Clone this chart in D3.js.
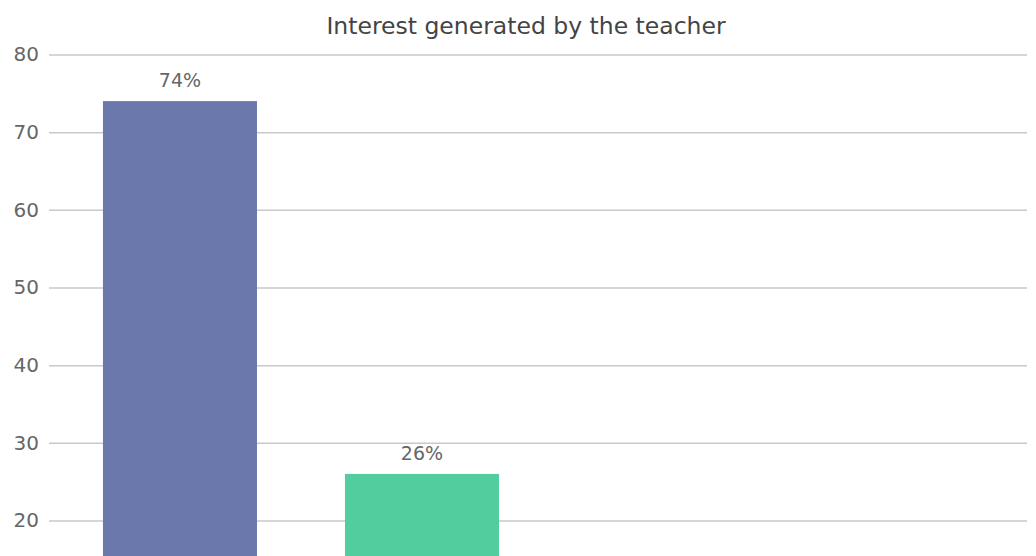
<!DOCTYPE html>
<html><head><meta charset="utf-8">
<script src="https://cdn.jsdelivr.net/npm/d3@7"></script>
<style>html,body{margin:0;padding:0;background:#fff;overflow:hidden}svg{display:block}</style>
</head><body>
<script>
const title = "Interest generated by the teacher";
const categories = ["Yes", "No"];
const values = [74, 26];
const labels = ["74%", "26%"];
const colors = ["#6b78ab", "#52cd9d"];
const yTicks = [20, 30, 40, 50, 60, 70, 80];

const W = 1036, H = 556;
const font = "'DejaVu Sans', sans-serif";
const svg = d3.select("body").append("svg").attr("width", W).attr("height", H);

const gridLeft = 49, gridRight = 1027;
const y = d3.scaleLinear().domain([0, 80]).range([54.5 + 8 * 77.67, 54.5]);
const step = 242;
const x = d3.scaleBand().domain(categories)
  .range([gridLeft, gridLeft + step * (categories.length - 0.3636 + 2 * 0.223)])
  .paddingInner(0.3636).paddingOuter(0.223);

svg.append("text").attr("x", 526).attr("y", 34).attr("text-anchor", "middle")
  .attr("font-family", font).attr("font-size", 23.5).attr("fill", "#444").text(title);

const axis = d3.axisLeft(y).tickValues(yTicks).tickSize(-(gridRight - gridLeft)).tickPadding(10).tickFormat(d3.format("d"));
const g = svg.append("g").attr("transform", `translate(${gridLeft},0)`).call(axis);
g.select(".domain").remove();
g.selectAll(".tick line").attr("stroke", "#c9c9c9").attr("stroke-width", 1.5);
g.selectAll(".tick text").attr("font-family", font).attr("font-size", 20).attr("fill", "#666");

svg.selectAll("rect.bar").data(values).enter().append("rect").attr("class", "bar")
  .attr("x", (d, i) => x(categories[i])).attr("width", x.bandwidth())
  .attr("y", d => y(d)).attr("height", d => y(0) - y(d))
  .attr("fill", (d, i) => colors[i]);

svg.selectAll("text.lbl").data(values).enter().append("text").attr("class", "lbl")
  .attr("x", (d, i) => x(categories[i]) + x.bandwidth() / 2).attr("y", d => y(d) - 14)
  .attr("text-anchor", "middle").attr("font-family", font).attr("font-size", 19).attr("fill", "#666")
  .text((d, i) => labels[i]);
</script>
</body></html>
